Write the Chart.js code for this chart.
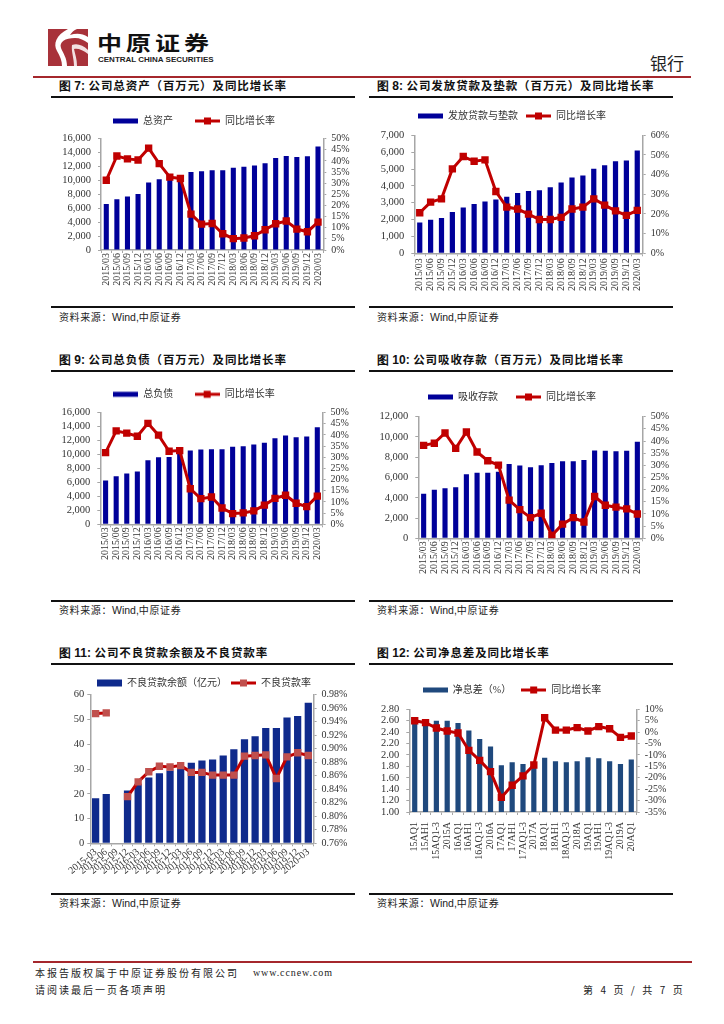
<!DOCTYPE html>
<html lang="zh">
<head>
<meta charset="utf-8">
<title>银行</title>
<script src="https://cdn.jsdelivr.net/npm/chart.js@4/dist/chart.umd.min.js"></script>
<style>
  html, body { margin: 0; padding: 0; background: #fff; }
  #page { position: relative; width: 724px; height: 1024px; overflow: hidden; font-family: "Noto Sans CJK SC", sans-serif; color: #111; }
  #page canvas { position: absolute; }
  .abs { position: absolute; white-space: nowrap; line-height: 1; }
  .rule { position: absolute; height: 2px; background: #111; }
  .title { font-size: 11.5px; font-weight: 700; letter-spacing: 0.9px; }
  .title b { font-family: "Liberation Sans", sans-serif; font-size: 12px; letter-spacing: 0; }
  .source { font-size: 10px; letter-spacing: 0.6px; color: #222; }
  .source i { font-family: "Liberation Sans", sans-serif; font-style: normal; font-size: 10.5px; letter-spacing: 0; }
  .foot { font-size: 10px; letter-spacing: 2px; color: #222; }
</style>
</head>
<body>
<div id="page">
  <svg class="abs" style="left:48px;top:29px" width="40" height="37" viewBox="0 0 40 37">
    <rect width="40" height="37" fill="#a8323a"/>
    <path d="M20 0 C8 6 5 15 9 22 C12 27 14 32 14 37 L19 37 C19 29 15 24 13 19 C11 13 17 9 27 9 C32 9 36 11 40 14 L40 8 C34 4 28 4 22 6 C24 3 26 1 29 0 Z" fill="#fff"/>
    <path d="M24 16 C29 14 35 16 40 21 L40 25 C35 21 30 19 26 20 C27 25 29 30 29 37 L26 37 C26 29 23 22 24 16 Z" fill="#fff" opacity="0.85"/>
  </svg>
  <div class="abs" style="left:97px;top:30px;font-size:25px;font-weight:700;letter-spacing:4px;color:#111;transform:scaleY(0.8)">中原证券</div>
  <div class="abs" style="left:98px;top:56px;font-family:'Liberation Sans',sans-serif;font-size:8px;font-weight:700;color:#222">CENTRAL CHINA SECURITIES</div>
  <div class="abs" style="left:650px;top:54px;font-size:17px;color:#222">银行</div>
  <div class="abs" style="left:33px;top:76px;width:658px;height:2px;background:#a5272c"></div>

  <div class="abs title" style="left:59px;top:80px"><b>图 7:</b> 公司总资产（百万元）及同比增长率</div>
  <div class="abs title" style="left:377px;top:80px"><b>图 8:</b> 公司发放贷款及垫款（百万元）及同比增长率</div>
  <div class="rule" style="left:51px;top:96px;width:304px"></div>
  <div class="rule" style="left:369px;top:96px;width:304px"></div>
  <div class="rule" style="left:51px;top:306px;width:304px"></div>
  <div class="rule" style="left:369px;top:306px;width:304px"></div>
  <div class="abs source" style="left:59px;top:312px">资料来源：<i>Wind,</i>中原证券</div>
  <div class="abs source" style="left:377px;top:312px">资料来源：<i>Wind,</i>中原证券</div>

  <div class="abs title" style="left:59px;top:354px"><b>图 9:</b> 公司总负债（百万元）及同比增长率</div>
  <div class="abs title" style="left:377px;top:354px"><b>图 10:</b> 公司吸收存款（百万元）及同比增长率</div>
  <div class="rule" style="left:51px;top:370px;width:304px"></div>
  <div class="rule" style="left:369px;top:370px;width:304px"></div>
  <div class="rule" style="left:51px;top:600px;width:304px"></div>
  <div class="rule" style="left:369px;top:600px;width:304px"></div>
  <div class="abs source" style="left:59px;top:605px">资料来源：<i>Wind,</i>中原证券</div>
  <div class="abs source" style="left:377px;top:605px">资料来源：<i>Wind,</i>中原证券</div>

  <div class="abs title" style="left:59px;top:647px"><b>图 11:</b> 公司不良贷款余额及不良贷款率</div>
  <div class="abs title" style="left:377px;top:647px"><b>图 12:</b> 公司净息差及同比增长率</div>
  <div class="rule" style="left:51px;top:663px;width:304px"></div>
  <div class="rule" style="left:369px;top:663px;width:304px"></div>
  <div class="rule" style="left:51px;top:893px;width:304px"></div>
  <div class="rule" style="left:369px;top:893px;width:304px"></div>
  <div class="abs source" style="left:59px;top:898px">资料来源：<i>Wind,</i>中原证券</div>
  <div class="abs source" style="left:377px;top:898px">资料来源：<i>Wind,</i>中原证券</div>

  <div class="abs" style="left:33px;top:961px;width:659px;height:2px;background:#a5272c"></div>
  <div class="abs foot" style="left:35px;top:968px">本报告版权属于中原证券股份有限公司</div>
  <div class="abs foot" style="left:253px;top:968px;font-family:'Liberation Serif',serif;letter-spacing:0.9px">www.ccnew.com</div>
  <div class="abs foot" style="left:35px;top:985px">请阅读最后一页各项声明</div>
  <div class="abs foot" style="left:583px;top:985px;letter-spacing:2.6px">第 4 页 / 共 7 页</div>

  <canvas id="c7"></canvas>
  <canvas id="c8"></canvas>
  <canvas id="c9"></canvas>
  <canvas id="c10"></canvas>
  <canvas id="c11"></canvas>
  <canvas id="c12"></canvas>
</div>

<script>
// 报告期
const quarters = ['2015/03','2015/06','2015/09','2015/12','2016/03','2016/06','2016/09','2016/12','2017/03','2017/06','2017/09','2017/12','2018/03','2018/06','2018/09','2018/12','2019/03','2019/06','2019/09','2019/12','2020/03'];
const quartersDash = ['2015-03','2015-06','2015-09','2015-12','2016-03','2016-06','2016-09','2016-12','2017-03','2017-06','2017-09','2017-12','2018-03','2018-06','2018-09','2018-12','2019-03','2019-06','2019-09','2019-12','2020-03'];
const nimPeriods = ['15AQ1','15AH1','15AQ1-3','2015A','16AQ1','16AH1','16AQ1-3','2016A','17AQ1','17AH1','17AQ1-3','2017A','18AQ1','18AH1','18AQ1-3','2018A','19AQ1','19AH1','19AQ1-3','2019A','20AQ1'];

// 图7
const totalAssets = [6600,7300,7700,8050,9700,10150,10400,10500,11200,11300,11450,11450,11800,11950,12150,12450,13200,13500,13350,13450,14850];
const totalAssetsYoy = [31.3,42.2,40.9,40.4,45.7,38.8,32.7,32.1,16.1,11.6,11.9,7.3,5.1,5.4,6.4,9.1,11.8,13,9.4,8.2,12.5];
// 图8
const loans = [1830,1990,2090,2445,2720,2920,3075,3195,3350,3570,3690,3745,3925,4200,4500,4615,5010,5225,5460,5500,6095];
const loansYoy = [20.6,26,27.7,42.9,49.2,46.8,47.5,31.4,23.5,22.5,19.9,17.2,17.2,18.3,22.5,23.5,27.7,24.5,21.6,19.3,21.8];
// 图9
const liabilities = [6290,6900,7290,7570,9190,9620,9650,10140,10570,10710,10760,10760,11100,11190,11430,11670,12330,12710,12480,12570,13900];
const liabilitiesYoy = [32.1,41.8,40.8,39.4,45.2,39.9,32.7,33,15.9,11.5,12.2,7.3,4.8,5.1,6,8.6,11.6,13,9.4,7.9,12.6];
// 图10
const deposits = [4385,4780,4945,5045,6330,6460,6460,6560,7320,7190,7020,7220,7420,7615,7615,7715,8670,8640,8600,8640,9530];
const depositsYoy = [38.2,39.1,43.3,37,43.7,35.5,31.9,30.1,15.7,11.8,8.5,10.3,1.2,5.8,8.5,6.7,17.2,13.6,12.8,12.1,10];
// 图11
const nplBalance = [18.2,19.9,null,21.3,24,26.6,28.3,29.4,30.3,32.5,33.4,33.8,35.5,38,42,43.2,46.6,46.6,50.8,51.4,56.8];
const nplRatio = [0.952,0.953,null,0.829,0.851,0.866,0.874,0.873,0.875,0.865,0.865,0.861,0.861,0.861,0.889,0.89,0.891,0.856,0.888,0.894,0.89];
// 图12
const nim = [2.6,2.58,2.6,2.6,2.56,2.43,2.28,2.15,1.82,1.87,1.84,1.85,1.95,1.89,1.87,1.89,1.96,1.94,1.89,1.84,1.92];
const nimYoy = [5,4.15,1.8,0.5,-0.4,-8,-12.4,-17.3,-28.6,-23.3,-19.2,-14.4,6.3,0.9,0.9,2,0.5,2.4,1.5,-2.3,-1.7];

const AXIS_GREY = '#a6a6a6';
const NUM_FONT = '"Liberation Serif", "Noto Sans CJK SC", serif';
const LEGEND_FONT_SIZE = 10;

// 图例色块
function barSwatch(color, h) {
    const c = document.createElement('canvas');
    c.width = 25; c.height = 10;
    const g = c.getContext('2d');
    g.fillStyle = color;
    g.fillRect(0, (10 - h) / 2, 25, h);
    return c;
}
function lineSwatch(color, marker) {
    const c = document.createElement('canvas');
    c.width = 25; c.height = 10;
    const g = c.getContext('2d');
    g.fillStyle = color;
    g.fillRect(0, 3.5, 25, 3);
    g.fillStyle = marker;
    g.fillRect(9, 1.5, 7, 7);
    return c;
}

function fmtThousand(v) {
    return String(v).replace(/\B(?=(\d{3})+$)/g, ',');
}

// 图例高度由 fit() 决定,这里改掉,让图区顶部可以单独定位
const legendHeightPlugin = {
    id: 'legendHeight',
    beforeLayout(chart, args, opts) {
        const legend = chart.legend;
        if (legend._fitPatched) return;
        const fit = legend.fit;
        legend.fit = function () {
            fit.call(this);
            this.height = opts.height;
        };
        legend._fitPatched = true;
    }
};

function makeChart(o) {
    const top = o.legendY - o.legendGap - LEGEND_FONT_SIZE / 2;
    const w = o.halfWidth * 2, left = o.legendX - o.halfWidth;
    const canvas = document.getElementById(o.id);
    canvas.width = Math.round(w);
    canvas.height = Math.round(o.bottom - top);
    canvas.style.left = left + 'px';
    canvas.style.top = top + 'px';
    const marker = o.markerColor || '#c00000';

    return new Chart(canvas, {
        plugins: [legendHeightPlugin],
        data: {
            labels: o.labels,
            datasets: [{
                type: 'bar',
                label: o.barLabel,
                data: o.bars,
                yAxisID: 'yL',
                order: 2,
                backgroundColor: o.barColor,
                barPercentage: o.barPct || 0.48,
                categoryPercentage: 1
            }, {
                type: 'line',
                label: o.lineLabel,
                data: o.line,
                yAxisID: 'yR',
                order: 1,
                borderColor: '#c00000',
                borderWidth: 3,
                tension: 0,
                spanGaps: false,
                pointStyle: 'rect',
                pointRadius: 5.2,
                pointBackgroundColor: marker,
                pointBorderColor: marker,
                pointBorderWidth: 0
            }]
        },
        options: {
            responsive: false,
            animation: false,
            layout: { padding: 0 },
            plugins: {
                tooltip: { enabled: false },
                legendHeight: { height: o.plotTop - top },
                legend: {
                    display: true,
                    position: 'top',
                    labels: {
                        usePointStyle: true,
                        pointStyleWidth: 25,
                        padding: o.legendGap,
                        color: '#333',
                        font: { family: NUM_FONT, size: LEGEND_FONT_SIZE },
                        generateLabels: () => [
                            { text: o.barLabel, pointStyle: barSwatch(o.barColor, o.swatchH || 5), fontColor: '#333', datasetIndex: 0 },
                            { text: o.lineLabel, pointStyle: lineSwatch('#c00000', marker), fontColor: '#333', datasetIndex: 1 }
                        ]
                    }
                }
            },
            scales: {
                x: {
                    offset: true,
                    border: { color: AXIS_GREY, width: 1.5 },
                    grid: { display: true, drawOnChartArea: false, drawTicks: true, tickLength: 3, color: AXIS_GREY, offset: true },
                    ticks: {
                        autoSkip: false,
                        maxRotation: o.rotation, minRotation: o.rotation,
                        padding: o.xPad || 0,
                        color: '#333',
                        font: { family: NUM_FONT, size: 10 }
                    },
                    afterFit: s => { s.height = o.bottom - o.plotBottom; }
                },
                yL: {
                    position: 'left',
                    min: o.leftMin, max: o.leftMax,
                    border: { color: AXIS_GREY, width: 1.5 },
                    grid: { display: true, drawOnChartArea: false, tickLength: 3, color: AXIS_GREY },
                    ticks: {
                        autoSkip: false,
                        stepSize: o.leftStep,
                        padding: o.leftPad === undefined ? 7 : o.leftPad,
                        color: '#333',
                        font: { family: NUM_FONT, size: 10.5 },
                        callback: o.leftFmt
                    },
                    afterFit: s => { s.width = o.plotLeft - left; }
                },
                yR: {
                    position: 'right',
                    min: o.rightMin, max: o.rightMax,
                    border: { color: AXIS_GREY, width: 1.5 },
                    grid: { display: true, drawOnChartArea: false, tickLength: 3, color: AXIS_GREY },
                    ticks: {
                        autoSkip: false,
                        stepSize: o.rightStep,
                        padding: 5,
                        color: '#333',
                        font: { family: NUM_FONT, size: 10 },
                        callback: o.rightFmt
                    },
                    afterFit: s => { s.width = left + w - o.plotRight; }
                }
            }
        }
    });
}

const pct = v => v + '%';
const ratioFmt = v => v.toFixed(2) + '%';

makeChart({ id: 'c7', labels: quarters, barLabel: '总资产', lineLabel: '同比增长率', bars: totalAssets, line: totalAssetsYoy,
    barColor: '#000099', rotation: 90, legendX: 194, legendY: 120.7, legendGap: 22, halfWidth: 158,
    plotLeft: 101, plotRight: 323.3, plotTop: 138.3, plotBottom: 250, bottom: 292,
    leftMin: 0, leftMax: 16000, leftStep: 2000, leftFmt: fmtThousand,
    rightMin: 0, rightMax: 50, rightStep: 5, rightFmt: pct });
makeChart({ id: 'c8', labels: quarters, barLabel: '发放贷款与垫款', lineLabel: '同比增长率', bars: loans, line: loansYoy,
    barColor: '#000099', rotation: 90, xPad: 2, legendX: 512, legendY: 115.7, legendGap: 8, halfWidth: 160,
    plotLeft: 414.3, plotRight: 642.7, plotTop: 135, plotBottom: 253.3, bottom: 297,
    leftMin: 0, leftMax: 7000, leftStep: 1000, leftFmt: fmtThousand,
    rightMin: 0, rightMax: 60, rightStep: 10, rightFmt: pct });
makeChart({ id: 'c9', labels: quarters, barLabel: '总负债', lineLabel: '同比增长率', bars: liabilities, line: liabilitiesYoy,
    barColor: '#000099', rotation: 90, legendX: 194.4, legendY: 394, legendGap: 21.3, halfWidth: 158,
    plotLeft: 100.7, plotRight: 323, plotTop: 412.3, plotBottom: 524.3, bottom: 566,
    leftMin: 0, leftMax: 16000, leftStep: 2000, leftFmt: fmtThousand,
    rightMin: 0, rightMax: 50, rightStep: 5, rightFmt: pct });
makeChart({ id: 'c10', labels: quarters, barLabel: '吸收存款', lineLabel: '同比增长率', bars: deposits, line: depositsYoy,
    barColor: '#000099', rotation: 90, legendX: 512, legendY: 397.3, legendGap: 18, halfWidth: 160,
    plotLeft: 418.3, plotRight: 642.7, plotTop: 417, plotBottom: 538.3, bottom: 582,
    leftMin: 0, leftMax: 12000, leftStep: 2000, leftFmt: fmtThousand,
    rightMin: 0, rightMax: 50, rightStep: 5, rightFmt: pct });
makeChart({ id: 'c11', labels: quartersDash, barLabel: '不良贷款余额（亿元）', lineLabel: '不良贷款率', bars: nplBalance, line: nplRatio,
    barColor: '#0f2a8c', markerColor: '#c0504d', barPct: 0.68, swatchH: 7, rotation: 40, leftPad: 3, legendX: 203.7, legendY: 683.3, legendGap: 4, halfWidth: 150,
    plotLeft: 90, plotRight: 313.3, plotTop: 695, plotBottom: 843.3, bottom: 885,
    leftMin: 0, leftMax: 60, leftStep: 10, leftFmt: v => v,
    rightMin: 0.76, rightMax: 0.98, rightStep: 0.02, rightFmt: ratioFmt });
makeChart({ id: 'c12', labels: nimPeriods, barLabel: '净息差（%）', lineLabel: '同比增长率', bars: nim, line: nimYoy,
    barColor: '#1f497d', rotation: 90, xPad: 7, legendX: 512, legendY: 690, legendGap: 10, halfWidth: 160,
    plotLeft: 409.3, plotRight: 636.7, plotTop: 709.3, plotBottom: 812, bottom: 860,
    leftMin: 1, leftMax: 2.8, leftStep: 0.2, leftFmt: v => v.toFixed(2),
    rightMin: -35, rightMax: 10, rightStep: 5, rightFmt: pct });
</script>
</body>
</html>
